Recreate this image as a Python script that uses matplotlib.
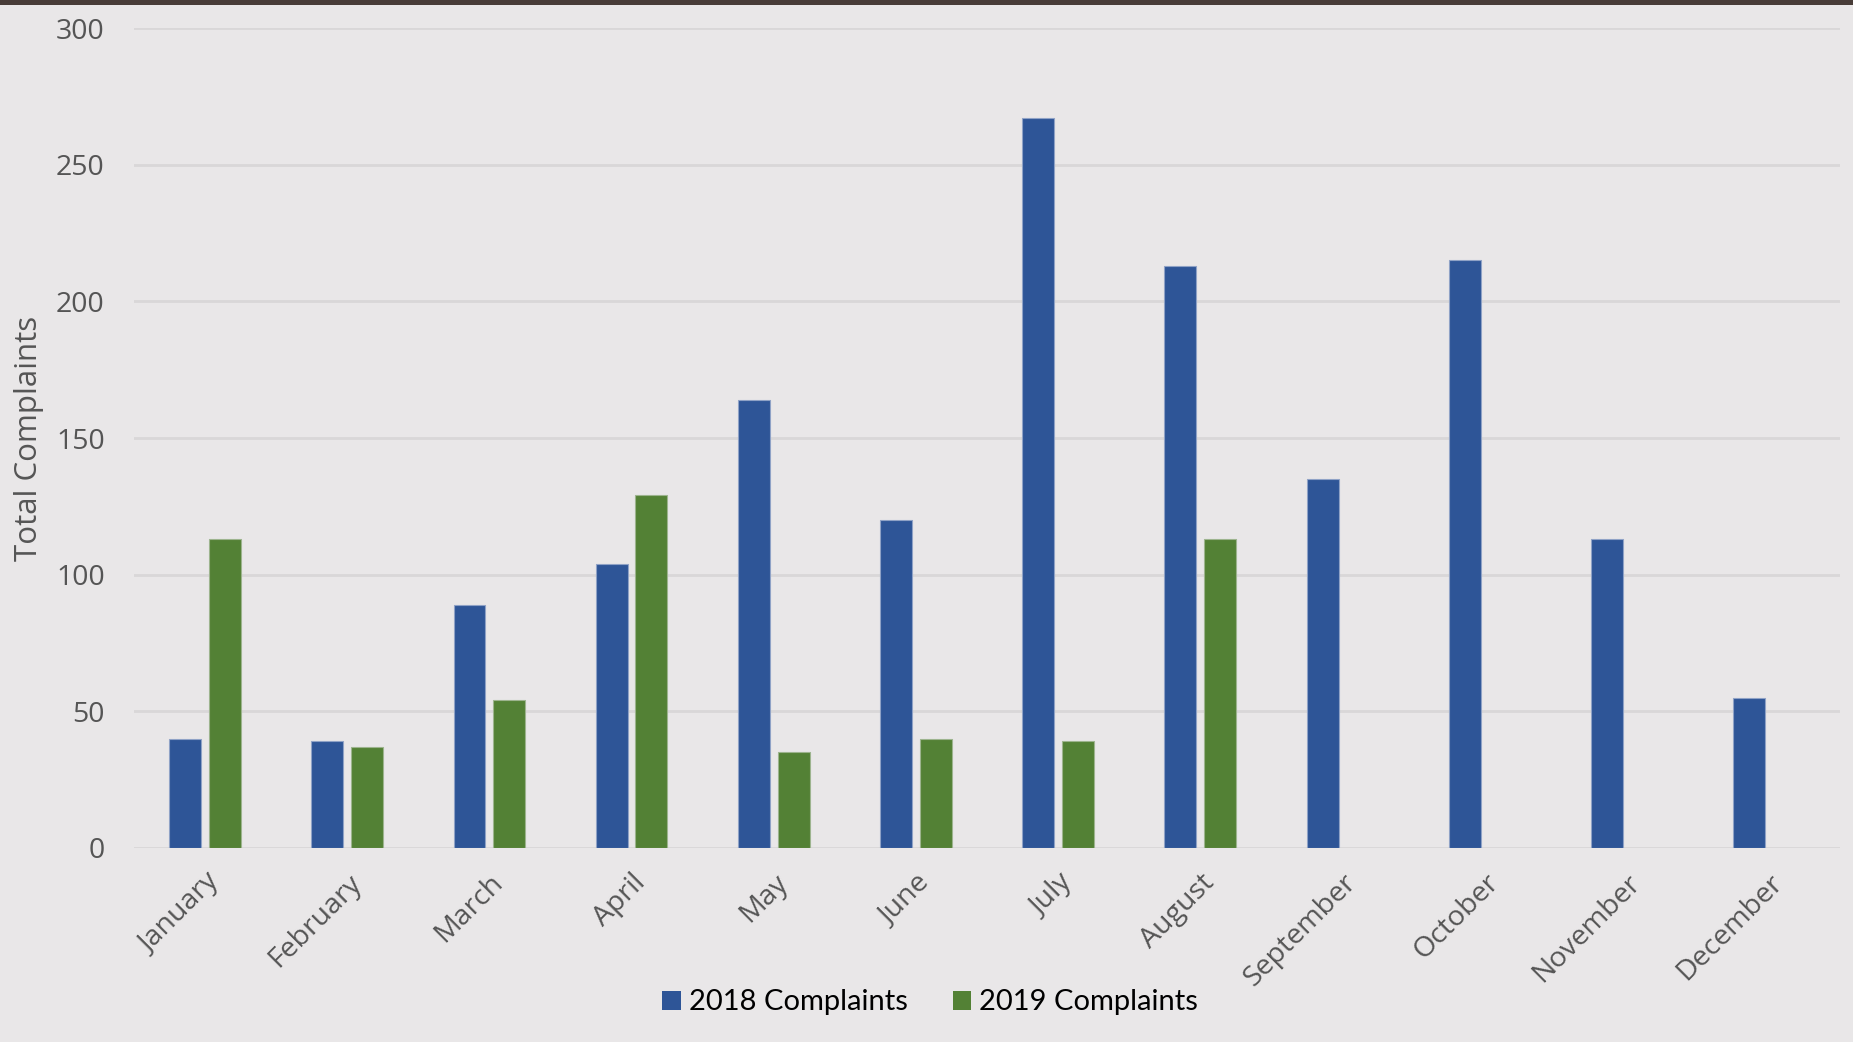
import numpy as np
import matplotlib
matplotlib.use("Agg")
import matplotlib.pyplot as plt
from matplotlib.patches import Rectangle, Patch

# data
months = ["January", "February", "March", "April", "May", "June",
          "July", "August", "September", "October", "November", "December"]
complaints_2018 = [40, 39, 89, 104, 164, 120, 267, 213, 135, 215, 113, 55]
complaints_2019 = [113, 37, 54, 129, 35, 40, 39, 113, None, None, None, None]
y_ticks = [0, 50, 100, 150, 200, 250, 300]

blue = "#2E5597"
green = "#538135"
bg = "#E9E7E8"
grey_text = "#555555"

plt.rcParams["font.family"] = ["Open Sans", "DejaVu Sans"]

fig = plt.figure(figsize=(18.53, 10.42), dpi=100)
fig.patch.set_facecolor(bg)
ax = fig.add_axes([0.0723, 0.1862, 0.9207, 0.7869])
ax.set_facecolor(bg)

# dark strip at very top
fig.patches.append(Rectangle((0, 1 - 5 / 1042), 1, 5 / 1042, transform=fig.transFigure,
                             facecolor="#483C38", edgecolor="none", zorder=5))

x = np.arange(len(months))
w = 0.225
off = 0.14
v19 = [np.nan if v is None else v for v in complaints_2019]

ax.bar(x - off, complaints_2018, width=w, color=blue, edgecolor="#8FA2C6", linewidth=0.8, zorder=3)
ax.bar(x + off, v19, width=w, color=green, edgecolor="#9DB48E", linewidth=0.8, zorder=3)

ax.set_xlim(-0.5, len(months) - 0.5)
ax.set_ylim(0, 300)
ax.set_yticks(y_ticks)
ax.grid(axis="y", color="#D9D7D8", linewidth=2, zorder=0)
ax.set_axisbelow(True)
for s in ax.spines.values():
    s.set_visible(False)

ax.tick_params(axis="both", length=0, labelsize=20.5, labelcolor=grey_text)
ax.tick_params(axis="y", pad=21)
ax.set_xticks(x)
ax.set_xticklabels(months, rotation=45, ha="right", rotation_mode="anchor")
ax.tick_params(axis="x", pad=15)

ax.set_ylabel("Total Complaints", fontsize=22.5, color=grey_text)
ax.yaxis.set_label_coords(-0.053, 0.5)

handles = [Patch(facecolor=blue, label="2018 Complaints"),
           Patch(facecolor=green, label="2019 Complaints")]
fig.legend(handles=handles, loc="center", bbox_to_anchor=(0.502, 0.038), ncol=2,
           frameon=False, prop={"family": ["Lato", "DejaVu Sans"], "size": 21},
           handlelength=0.62, handleheight=0.62, handletextpad=0.28, columnspacing=1.55)

fig.savefig("out.png", dpi=100, facecolor=bg)
